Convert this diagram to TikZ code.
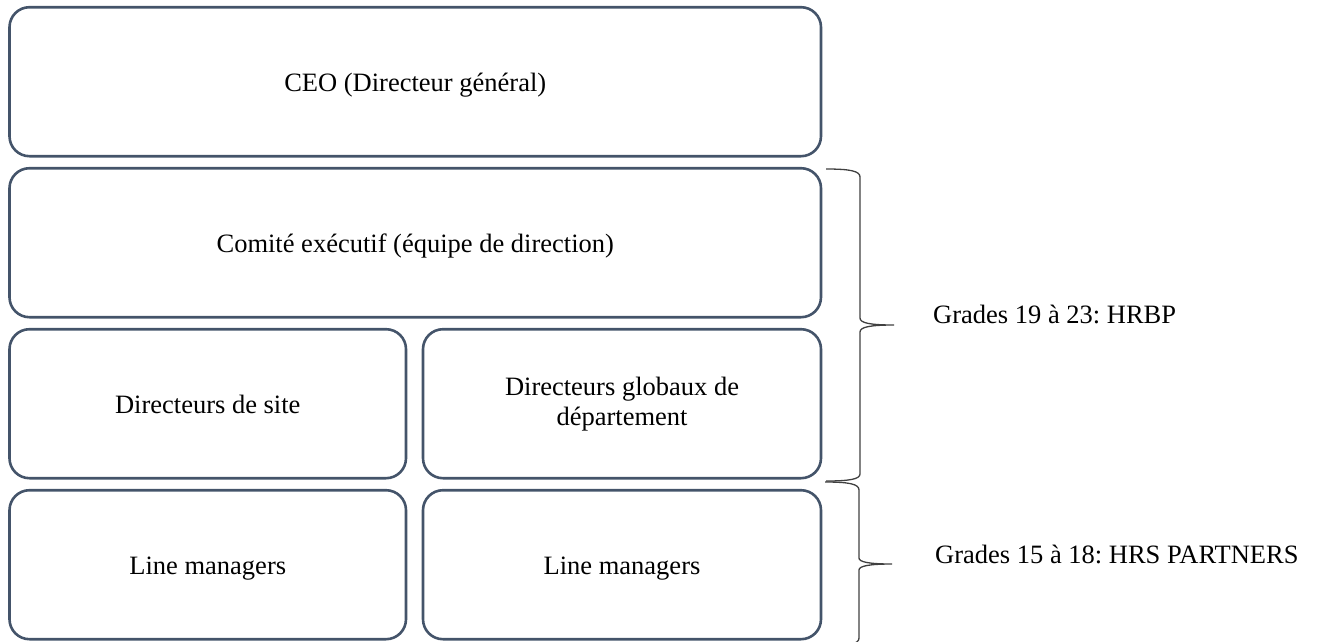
\documentclass[tikz,border=0pt]{standalone}
\usepackage{fontspec}
\setmainfont{Liberation Serif}
\frenchspacing
\definecolor{boxc}{HTML}{44546A}
\definecolor{bracec}{HTML}{404040}
\begin{document}
\begin{tikzpicture}[x=1pt,y=-1pt,
  box/.style={draw=boxc, line width=2.6pt, rounded corners=20pt, inner sep=0pt,
    minimum height=149pt, font=\fontsize{26.5}{30}\selectfont, align=center, text=black},
  one/.style={text height=20pt, text depth=0pt},
  brace/.style={draw=bracec, line width=1.3pt},
  lab/.style={font=\fontsize{26.5}{30}\selectfont, anchor=base west, inner sep=0pt, text=black}]
\useasboundingbox (0,0) rectangle (1322,641);
\node[box, one, minimum width=811.5pt] (ceo) at (415.25,81.7) {CEO (Directeur général)};
\node[box, one, minimum width=811.5pt] (comex) at (415.25,242.7) {Comité exécutif (équipe de direction)};
\node[box, one, minimum width=396.5pt] (site) at (207.75,403.7) {Directeurs de site};
\node[box, minimum width=398pt] (glob) at (622,403.7) {Directeurs globaux de\\département};
\node[box, one, minimum width=396.5pt] (lm1) at (207.75,564.7) {Line managers};
\node[box, one, minimum width=398pt] (lm2) at (622,564.7) {Line managers};
% braces
\draw[brace] (826,169) .. controls (850,169) and (860,171) .. (860,177) -- (860,318)
  .. controls (860,323) and (870,325) .. (894,325)
  .. controls (870,325) and (860,327) .. (860,332) -- (860,474)
  .. controls (860,479) and (850,481) .. (826,481);
\draw[brace] (825,482) .. controls (849,482) and (859,484) .. (859,490) -- (859,558)
  .. controls (859,562) and (869,564) .. (892,564)
  .. controls (869,564) and (859,566) .. (859,570) -- (859,638)
  .. controls (859,644) and (849,646) .. (825,646);
\node[lab] (g1) at (933,323) {Grades 19 à 23: HRBP};
\node[lab] (g2) at (935,563) {Grades 15 à 18: HRS PARTNERS};
\end{tikzpicture}
\end{document}
